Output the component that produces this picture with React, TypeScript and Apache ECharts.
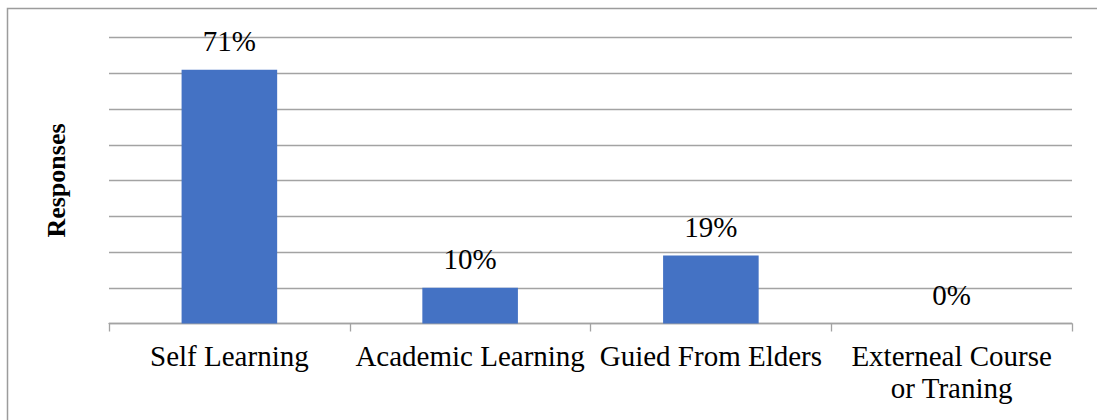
import React, { useEffect, useRef } from "react";
import * as echarts from "echarts";

const categories = [
  "Self Learning",
  "Academic Learning",
  "Guied From Elders",
  "Externeal Course\nor Traning",
];
const responses = [71, 10, 19, 0];
const yMax = 80;
const yStep = 10;

const SERIF = "Liberation Serif";
const GRID_GREY = "#a3a3a3";

export default function App() {
  const ref = useRef<HTMLDivElement>(null);

  useEffect(() => {
    document.body.style.margin = "0";
    const chart = echarts.init(ref.current!, null, { renderer: "svg" });
    chart.setOption({
      animation: false,
      backgroundColor: "#ffffff",
      textStyle: { fontFamily: SERIF },
      graphic: [
        {
          type: "rect",
          shape: { x: 7.5, y: 8.5, width: 1200, height: 600 },
          style: { fill: "none", stroke: "#9c9c9c", lineWidth: 1.5 },
          silent: true,
          z: -1,
        },
      ],
      grid: { left: 109, right: 25, top: 37.5, bottom: 96.5, containLabel: false },
      xAxis: {
        type: "category",
        data: categories,
        axisLine: { show: true, lineStyle: { color: GRID_GREY, width: 1.3 } },
        axisTick: { show: true, length: 8, lineStyle: { color: GRID_GREY, width: 1.3 } },
        axisLabel: {
          color: "#000",
          fontFamily: SERIF,
          fontSize: 29,
          lineHeight: 32,
          margin: 16,
          interval: 0,
        },
      },
      yAxis: {
        type: "value",
        min: 0,
        max: yMax,
        interval: yStep,
        name: "Responses",
        nameLocation: "middle",
        nameGap: 40,
        nameRotate: 90,
        nameTextStyle: {
          color: "#000",
          fontFamily: SERIF,
          fontSize: 26,
          fontWeight: "bold",
        },
        axisLine: { show: false },
        axisTick: { show: false },
        axisLabel: { show: false },
        splitLine: { show: true, lineStyle: { color: GRID_GREY, width: 1.3 } },
      },
      series: [
        {
          type: "bar",
          data: responses,
          barWidth: "39.7%",
          itemStyle: { color: "#4472C4" },
          label: {
            show: true,
            position: "top",
            distance: 14,
            formatter: "{c}%",
            color: "#000",
            fontFamily: SERIF,
            fontSize: 29,
          },
        },
      ],
    });
    return () => chart.dispose();
  }, []);

  return (
    <div
      ref={ref}
      style={{ position: "absolute", left: 0, top: 0, width: 1097, height: 420 }}
    />
  );
}
